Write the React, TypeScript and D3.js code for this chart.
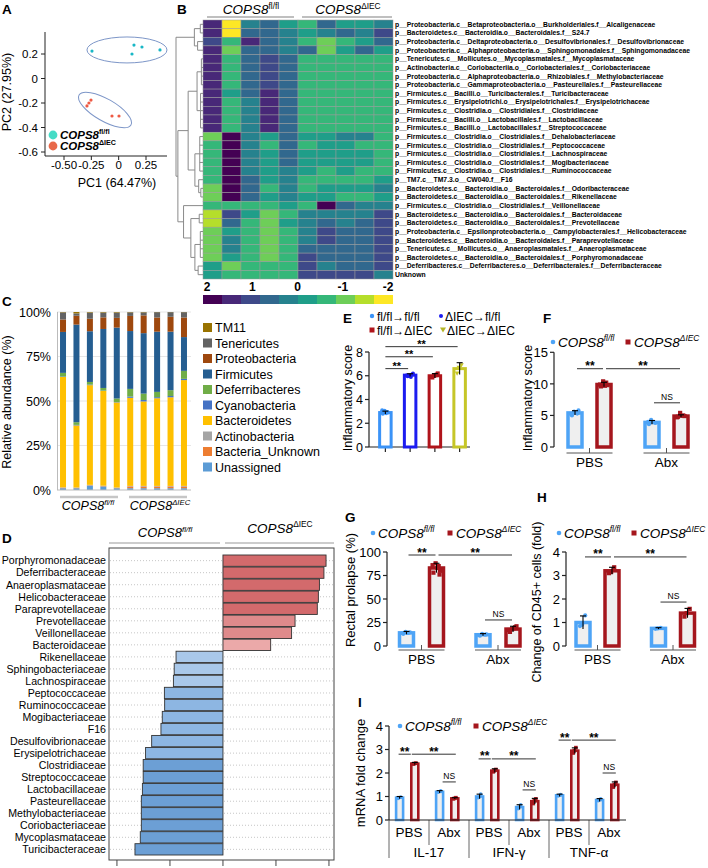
import React from "react";
import * as d3 from "d3";

const FONT = "'Liberation Sans', Arial, Helvetica, sans-serif";
const LBLUE = "#4ea4f6";
const DRED = "#a5161d";
const BAR_FILL = "#efefef";
const AXIS = "#222";

// ---------- Panel A: PCA ----------
const pcaFlX = [-0.244, 0.14, 0.213, 0.122, 0.378];
const pcaFlY = [0.224, 0.273, 0.257, 0.2, 0.233];
const pcaKoX = [-0.253, -0.272, -0.29, -0.061, 0.003];
const pcaKoY = [-0.176, -0.2, -0.224, -0.306, -0.306];
const pcaXTicks = [-0.5, -0.25, 0, 0.25];
const pcaXTickLabels = ["-0.50", "-0.25", "0", "0.25"];
const pcaYTicks = [0.2, 0, -0.2, -0.4, -0.6];
const pcaYTickLabels = ["0.2", "0", "-0.2", "-0.4", "-0.6"];
const ellCx = [0.076, -0.125];
const ellCy = [0.233, -0.257];
const ellRx = [0.366, 0.274];
const ellRy = [0.106, 0.09];
const ellRot = [0, 30];

// ---------- Panel B: heatmap ----------
const hmTaxa = [
  "p__Proteobacteria.c__Betaproteobacteria.o__Burkholderiales.f__Alcaligenaceae",
  "p__Bacteroidetes.c__Bacteroidia.o__Bacteroidales.f__S24.7",
  "p__Proteobacteria.c__Deltaproteobacteria.o__Desulfovibrionales.f__Desulfovibrionaceae",
  "p__Proteobacteria.c__Alphaproteobacteria.o__Sphingomonadales.f__Sphingomonadaceae",
  "p__Tenericutes.c__Mollicutes.o__Mycoplasmatales.f__Mycoplasmataceae",
  "p__Actinobacteria.c__Coriobacteriia.o__Coriobacteriales.f__Coriobacteriaceae",
  "p__Proteobacteria.c__Alphaproteobacteria.o__Rhizobiales.f__Methylobacteriaceae",
  "p__Proteobacteria.c__Gammaproteobacteria.o__Pasteurellales.f__Pasteurellaceae",
  "p__Firmicutes.c__Bacilli.o__Turicibacterales.f__Turicibacteraceae",
  "p__Firmicutes.c__Erysipelotrichi.o__Erysipelotrichales.f__Erysipelotrichaceae",
  "p__Firmicutes.c__Clostridia.o__Clostridiales.f__Clostridiaceae",
  "p__Firmicutes.c__Bacilli.o__Lactobacillales.f__Lactobacillaceae",
  "p__Firmicutes.c__Bacilli.o__Lactobacillales.f__Streptococcaceae",
  "p__Firmicutes.c__Clostridia.o__Clostridiales.f__Dehalobacteriaceae",
  "p__Firmicutes.c__Clostridia.o__Clostridiales.f__Peptococcaceae",
  "p__Firmicutes.c__Clostridia.o__Clostridiales.f__Lachnospiraceae",
  "p__Firmicutes.c__Clostridia.o__Clostridiales.f__Mogibacteriaceae",
  "p__Firmicutes.c__Clostridia.o__Clostridiales.f__Ruminococcaceae",
  "p__TM7.c__TM7.3.o__CW040.f__F16",
  "p__Bacteroidetes.c__Bacteroidia.o__Bacteroidales.f__Odoribacteraceae",
  "p__Bacteroidetes.c__Bacteroidia.o__Bacteroidales.f__Rikenellaceae",
  "p__Firmicutes.c__Clostridia.o__Clostridiales.f__Veillonellaceae",
  "p__Bacteroidetes.c__Bacteroidia.o__Bacteroidales.f__Bacteroidaceae",
  "p__Bacteroidetes.c__Bacteroidia.o__Bacteroidales.f__Prevotellaceae",
  "p__Proteobacteria.c__Epsilonproteobacteria.o__Campylobacterales.f__Helicobacteraceae",
  "p__Bacteroidetes.c__Bacteroidia.o__Bacteroidales.f__Paraprevotellaceae",
  "p__Tenericutes.c__Mollicutes.o__Anaeroplasmatales.f__Anaeroplasmataceae",
  "p__Bacteroidetes.c__Bacteroidia.o__Bacteroidales.f__Porphyromonadaceae",
  "p__Deferribacteres.c__Deferribacteres.o__Deferribacterales.f__Deferribacteraceae",
  "Unknown",
];
const hmZ = [
  [1.4, -1.8, 0.2, 0.6, -0.2, -0.6, 0.6, -0.2, -0.2, 0.2],
  [1.4, -1.8, 0.6, 0.6, 0.2, -0.2, 0.2, 0.6, 0.2, 1.0],
  [1.0, -0.6, 1.4, 0.6, 0.2, -0.6, -1.0, -0.6, -0.2, 0.6],
  [1.4, -1.0, 0.6, 0.6, 0.2, 0.6, -1.0, -0.2, 0.6, -0.2],
  [1.4, -0.6, 0.6, 1.0, 0.6, -0.6, -0.6, -0.6, -0.6, -0.6],
  [1.4, -0.6, 0.6, 1.0, 0.6, -0.6, -0.6, -0.6, -0.6, -0.6],
  [1.4, -0.6, 0.6, 1.0, 0.6, -0.6, -0.6, -0.6, -0.6, -0.6],
  [1.4, -0.6, 0.6, 1.0, 0.6, -0.6, -0.6, -0.6, -0.6, -0.6],
  [1.4, -0.2, 0.6, 1.4, 0.6, -0.6, -0.6, -0.6, -0.6, -0.6],
  [1.4, -0.6, 0.2, 1.4, 0.6, -0.6, -0.6, -0.6, -0.6, -0.6],
  [1.4, -0.6, 0.2, 1.4, 0.6, -0.6, -0.6, -0.6, -0.6, -0.6],
  [1.4, -0.6, 0.2, 1.4, 0.6, -0.6, -0.6, -0.6, -0.6, -0.6],
  [1.4, -0.6, 0.2, 1.4, 0.6, -0.6, -0.6, -0.6, -0.6, -0.6],
  [-1.0, 1.8, 0.2, -0.2, 0.6, -0.2, -0.2, 0.2, 0.2, -0.6],
  [-0.6, 1.8, 0.2, -0.6, 0.6, -0.6, -0.2, -0.2, -0.6, -0.6],
  [-0.6, 1.8, 0.2, -0.2, 0.6, -0.2, -0.2, -0.2, -0.2, -0.6],
  [-0.6, 1.8, 0.2, -0.2, 0.6, -0.2, -0.2, -0.2, -0.2, -0.6],
  [-0.6, 1.8, 0.2, -0.2, 0.2, -0.2, -0.6, -0.2, -0.6, -0.6],
  [-0.6, 1.8, 0.6, -0.2, 0.2, -0.6, -0.6, -0.6, -0.6, -0.2],
  [-1.0, 1.8, 0.6, -0.6, 0.2, -0.6, -0.2, -0.2, -0.2, 0.2],
  [-1.0, 1.8, 0.6, -0.2, 0.2, -0.2, -0.2, -0.6, -0.6, -0.2],
  [-0.6, -0.6, -0.6, -0.6, -0.2, -0.6, 1.8, 0.6, 0.2, 0.2],
  [-1.4, 1.0, -0.2, -1.0, -0.6, 0.2, 0.2, 0.2, 0.2, 1.0],
  [-1.4, 0.6, -0.6, -1.0, -0.2, 0.2, 0.6, 0.2, 0.6, 1.0],
  [-1.0, -0.2, -0.6, -1.0, -0.6, 0.2, 1.0, 0.6, 0.6, 1.0],
  [-1.0, 0.2, -0.6, -1.0, -0.6, 0.2, 1.0, 0.6, 0.6, 1.0],
  [-1.0, 0.2, -0.6, -1.0, -0.6, 0.6, 0.6, 0.6, 0.6, 1.0],
  [-1.0, -0.2, -0.6, -1.0, -0.6, 1.0, 0.6, 0.6, 0.6, 1.0],
  [-0.2, -1.0, -0.6, -0.6, -0.6, 1.0, 0.2, 0.6, 0.6, 1.0],
  [-0.2, -0.6, -0.6, -0.6, -0.6, 1.0, 1.0, 1.0, 1.0, 0.2],
];
const hmSamples = ["F1", "F2", "F3", "F4", "F5", "K1", "K2", "K3", "K4", "K5"];
const hmLegendTicks = [2, 1, 0, -1, -2];
const hmTree: any = {
  h: 1,
  c: [
    { h: 0.32, c: [{ h: 0.1, c: [0, 1] }, { h: 0.2, c: [2, 3] }] },
    {
      h: 0.93,
      c: [
        {
          h: 0.55,
          c: [
            { h: 0.22, c: [{ h: 0.06, c: [4, 5, 6, 7] }, { h: 0.09, c: [8, 9, 10, 11, 12] }] },
            { h: 0.3, c: [{ h: 0.12, c: [13, 14, 15, 16, 17] }, { h: 0.16, c: [18, { h: 0.08, c: [19, 20] }] }] },
          ],
        },
        {
          h: 0.72,
          c: [
            21,
            { h: 0.45, c: [{ h: 0.14, c: [22, 23] }, { h: 0.3, c: [{ h: 0.1, c: [24, 25, 26, 27] }, { h: 0.18, c: [28, 29] }] }] },
          ],
        },
      ],
    },
  ],
};

// ---------- Panel C: relative abundance ----------
const cSamples = ["F1", "F2", "F3", "F4", "F5", "K1", "K2", "K3", "K4", "K5"];
const phyla = ["Unassigned", "Bacteria_Unknown", "Actinobacteria", "Bacteroidetes", "Cyanobacteria", "Deferribacteres", "Firmicutes", "Proteobacteria", "Tenericutes", "TM11"];
const unassigned = [1.0, 1.0, 2.5, 2.0, 1.0, 1.0, 1.0, 1.0, 1.0, 1.0];
const bactUnknown = [0.3, 0.2, 0.2, 0.2, 0.2, 1.0, 1.0, 1.0, 1.0, 1.0];
const actinobacteria = [0.2, 0.2, 0.2, 0.2, 0.2, 0.3, 0.3, 0.3, 0.3, 0.3];
const bacteroidetes = [62, 35, 56, 53, 48, 49.5, 47.5, 49.5, 50, 59.5];
const cyanobacteria = [0.3, 0.3, 0.3, 0.2, 0.2, 0.7, 0.8, 0.6, 0.7, 0.7];
const deferribacteres = [2, 1.5, 1.5, 1.5, 2, 4.3, 3.6, 3, 3.3, 4.5];
const firmicutes = [23, 55, 28.5, 33, 40, 32.5, 34, 34, 33, 19];
const proteobacteria = [7, 5, 7, 6.5, 5.5, 8.5, 10, 8, 8.4, 11];
const tenericutes = [4, 1.3, 3.5, 2.7, 3, 2, 1.7, 3, 2.6, 3];
const tm11 = [0.2, 0.8, 0.3, 0.3, 0.3, 0.2, 0.2, 0.1, 0.1, 0.1];
const phylumColors = ["#5b9bd5", "#ed7d31", "#a5a5a5", "#ffc000", "#4472c4", "#70ad47", "#255e91", "#9e480e", "#636363", "#997300"];
const cTicks = [0, 0.25, 0.5, 0.75, 1];
const cTickLabels = ["0%", "25%", "50%", "75%", "100%"];

// ---------- Panel D: LEfSe ----------
const dFamilies = [
  "Porphyromonadaceae", "Deferribacteraceae", "Anaeroplasmataceae", "Helicobacteraceae", "Paraprevotellaceae",
  "Prevotellaceae", "Veillonellaceae", "Bacteroidaceae", "Rikenellaceae", "Sphingobacteriaceae", "Lachnospiraceae",
  "Peptococcaceae", "Ruminococcaceae", "Mogibacteriaceae", "F16", "Desulfovibrionaceae", "Erysipelotrichaceae",
  "Clostridiaceae", "Streptococcaceae", "Lactobacillaceae", "Pasteurellaceae", "Methylobacteriaceae",
  "Coriobacteriaceae", "Mycoplasmataceae", "Turicibacteraceae",
];
const dLda = [3.89, 3.81, 3.64, 3.6, 3.56, 2.72, 2.59, 1.8, -1.77, -1.84, -1.87, -2.21, -2.2, -2.29, -2.34, -2.69, -2.92, -3.01, -3.01, -3.04, -3.08, -3.08, -3.08, -3.12, -3.32];
const dTicks = [-4, -2, 0, 2, 4];

// ---------- Panel E ----------
const eGroups = ["fl/fl→fl/fl", "ΔIEC→fl/fl", "fl/fl→ΔIEC", "ΔIEC→ΔIEC"];
const eMeans = [2.9, 6.05, 6.0, 6.6];
const eErr = [0.12, 0.12, 0.18, 0.5];
const eDots = [
  [2.8, 2.95, 3.05, 2.9, 3.1, 2.85],
  [5.95, 6.1, 6.0, 6.2, 6.05, 5.9],
  [5.85, 6.1, 6.0, 6.2, 5.9, 6.05],
  [6.2, 6.9, 6.7],
];
const eTicks = [0, 2, 4, 6, 8];
const eSigFrom = [0, 0, 0];
const eSigTo = [1, 2, 3];
const eSigLevel = [6.6, 7.6, 8.45];
const eSigLabel = ["**", "**", "**"];

// ---------- Panels F, G, H (PBS / Abx x genotype) ----------
const treatments = ["PBS", "Abx"];
const fMeans = [5.4, 9.9, 3.9, 4.9];
const fErr = [0.35, 0.35, 0.3, 0.2];
const fDots = [
  [5.0, 5.3, 5.6, 5.8, 5.2, 5.5, 5.4],
  [9.6, 10.2, 10.4, 9.8, 9.9, 9.7],
  [3.6, 3.9, 4.3, 3.8, 4.0],
  [4.8, 5.0, 5.4, 4.9, 4.7],
];
const fTicks = [0, 5, 10, 15];
const fSigFrom = [0, 1, 2];
const fSigTo = [1, 3, 3];
const fSigLevel = [12.4, 12.4, 7.0];
const fSigLabel = ["**", "**", "NS"];

const gMeans = [14, 83, 12, 18];
const gErr = [1.5, 5, 1.2, 3];
const gDots = [
  [13, 14, 15, 14.5, 13.5, 14],
  [78, 85, 88, 80, 86, 83, 76],
  [11, 12, 13, 12.5, 11.5],
  [15, 20, 18, 21, 17, 19],
];
const gTicks = [0, 25, 50, 75, 100];
const gSigFrom = [0, 1, 2];
const gSigTo = [1, 3, 3];
const gSigLevel = [96.8, 96.8, 27.7];
const gSigLabel = ["**", "**", "NS"];

const hMeans = [1.0, 3.2, 0.75, 1.4];
const hErr = [0.28, 0.15, 0.03, 0.2];
const hDots = [
  [0.85, 1.3, 0.9],
  [3.1, 3.35, 3.15],
  [0.73, 0.77, 0.75],
  [1.25, 1.58, 1.4],
];
const hTicks = [0, 1, 2, 3, 4];
const hSigFrom = [0, 1, 2];
const hSigTo = [1, 3, 3];
const hSigLevel = [3.79, 3.79, 1.87];
const hSigLabel = ["**", "**", "NS"];

// ---------- Panel I ----------
const genes = ["IL-17", "IFN-γ", "TNF-α"];
const iPbsFl = [0.95, 1.0, 1.05];
const iPbsKo = [2.4, 2.1, 2.95];
const iAbxFl = [1.2, 0.55, 0.85];
const iAbxKo = [0.92, 0.8, 1.5];
const iPbsFlErr = [0.05, 0.1, 0.05];
const iPbsKoErr = [0.05, 0.08, 0.12];
const iAbxFlErr = [0.05, 0.1, 0.06];
const iAbxKoErr = [0.03, 0.12, 0.12];
const iDotsPbsFl = [[0.92, 0.98, 0.95], [0.95, 1.1, 0.98], [1.02, 1.08, 1.05]];
const iDotsPbsKo = [[2.38, 2.42, 2.4], [2.05, 2.15, 2.1], [2.85, 3.08, 2.95]];
const iDotsAbxFl = [[1.18, 1.24, 1.2], [0.48, 0.65, 0.55], [0.82, 0.9, 0.85]];
const iDotsAbxKo = [[0.9, 0.95, 0.92], [0.7, 0.9, 0.82], [1.4, 1.6, 1.5]];
const iTicks = [0, 1, 2, 3, 4];
const iSigLevelPair = [2.8, 2.6, 3.4];
const iSigLevelNs = [1.62, 1.28, 2.0];

const JIT = [-3.5, 2.5, -1, 4, -4.5, 1, 3.5, -2];

function Cops({ x, y, sup, fs = 13, anchor = "start", bold = false, supItalic = true, supDy = 0.42 }: any) {
  return (
    <text x={x} y={y} fontSize={fs} fontStyle="italic" fontWeight={bold ? "bold" : "normal"} textAnchor={anchor}>
      COPS8
      <tspan fontSize={fs * 0.62} dy={-fs * supDy} fontStyle={supItalic ? "italic" : "normal"}>
        {sup}
      </tspan>
    </text>
  );
}

function Letter({ x, y, t }: any) {
  return (
    <text x={x} y={y} fontSize={13.5} fontWeight="bold">
      {t}
    </text>
  );
}

function YAxis({ x, y, ticks, fs = 13, title, titleX, titleFs = 12.5, titleCy }: any) {
  const [d0, d1] = y.domain();
  const cy = titleCy ?? (y(d0) + y(d1)) / 2;
  return (
    <g>
      <line x1={x} x2={x} y1={y(d1)} y2={y(d0)} stroke={AXIS} strokeWidth={1.2} />
      {ticks.map((t: number) => (
        <g key={t}>
          <line x1={x - 4} x2={x} y1={y(t)} y2={y(t)} stroke={AXIS} strokeWidth={1.2} />
          <text x={x - 6} y={y(t) + fs * 0.36} textAnchor="end" fontSize={fs}>
            {t}
          </text>
        </g>
      ))}
      <text transform={`translate(${titleX},${cy}) rotate(-90)`} textAnchor="middle" fontSize={titleFs}>
        {title}
      </text>
    </g>
  );
}

function Marker({ shape, x, y, color, s = 4.4 }: any) {
  if (shape === "s") return <rect x={x - s / 2} y={y - s / 2} width={s} height={s} fill={color} />;
  if (shape === "t")
    return <path d={`M${x - s * 0.6},${y - s * 0.45}L${x + s * 0.6},${y - s * 0.45}L${x},${y + s * 0.6}Z`} fill={color} />;
  return <circle cx={x} cy={y} r={s / 2} fill={color} />;
}

function BarSet({ xs, means, errs, dots, colors, shapes, y, w, sw, fill, dotSize = 4.2 }: any) {
  return (
    <g>
      {means.map((v: number, i: number) => {
        const x = xs[i];
        const top = y(v);
        const base = y(0);
        return (
          <g key={i}>
            <rect x={x - w / 2} y={top} width={w} height={base - top} fill={fill} stroke={colors[i]} strokeWidth={sw} />
            {dots[i].map((d: number, k: number) => (
              <Marker key={k} shape={shapes[i]} x={x + JIT[k % JIT.length] * (w / 16)} y={y(d)} color={colors[i]} s={dotSize} />
            ))}
            <line x1={x} x2={x} y1={y(v + errs[i])} y2={y(v - errs[i])} stroke="#000" strokeWidth={1.1} />
            <line x1={x - 3} x2={x + 3} y1={y(v + errs[i])} y2={y(v + errs[i])} stroke="#000" strokeWidth={1.1} />
          </g>
        );
      })}
    </g>
  );
}

function Sig({ x1, x2, y, label, fs = 12 }: any) {
  const ns = label === "NS";
  return (
    <g>
      <line x1={x1} x2={x2} y1={y} y2={y} stroke="#333" strokeWidth={1} />
      <text x={(x1 + x2) / 2} y={ns ? y - 3 : y + 1.5} textAnchor="middle" fontSize={ns ? 8.5 : fs} fontWeight={ns ? "normal" : "bold"}>
        {label}
      </text>
    </g>
  );
}

function GroupAxis({ centers, labels, y, half = 23, labelY, fs = 13.5 }: any) {
  return (
    <g>
      {centers.map((c: number, i: number) => (
        <g key={i}>
          <line x1={c - half} x2={c + half} y1={y} y2={y} stroke="#555" strokeWidth={1} />
          <line x1={c} x2={c} y1={y - 5} y2={y} stroke="#555" strokeWidth={1} />
          <text x={c} y={labelY} textAnchor="middle" fontSize={fs}>
            {labels[i]}
          </text>
        </g>
      ))}
    </g>
  );
}

function GenoLegend({ x, y, gap }: any) {
  return (
    <g>
      <circle cx={x} cy={y} r={2.3} fill={LBLUE} />
      <Cops x={x + 5} y={y + 5} sup="fl/fl" fs={13.5} />
      <rect x={x + gap - 2.5} y={y - 2.5} width={5} height={5} fill={DRED} />
      <Cops x={x + gap + 6} y={y + 5} sup="ΔIEC" fs={13.5} />
    </g>
  );
}

function PanelA() {
  const x = d3.scaleLinear().domain([-0.5, 0.25]).range([64, 146]);
  const y = d3.scaleLinear().domain([-0.6, 0.2]).range([152, 54]);
  const kx = x(1) - x(0);
  const ky = y(0) - y(1);
  return (
    <g>
      <Letter x={2} y={14} t="A" />
      {ellCx.map((cx, i) => (
        <ellipse
          key={i}
          cx={x(cx)}
          cy={y(ellCy[i])}
          rx={ellRx[i] * kx}
          ry={ellRy[i] * ky}
          transform={`rotate(${ellRot[i]} ${x(cx)} ${y(ellCy[i])})`}
          fill="none"
          stroke="#7d96c8"
          strokeWidth={1}
        />
      ))}
      {pcaFlX.map((v, i) => (
        <circle key={"f" + i} cx={x(v)} cy={y(pcaFlY[i])} r={1.6} fill="#18b7c6" />
      ))}
      {pcaKoX.map((v, i) => (
        <circle key={"k" + i} cx={x(v)} cy={y(pcaKoY[i])} r={1.6} fill="#ee5a44" />
      ))}
      <line x1={45} x2={45} y1={32} y2={156} stroke={AXIS} />
      <line x1={45} x2={167} y1={156} y2={156} stroke={AXIS} />
      {pcaYTicks.map((t, i) => (
        <g key={i}>
          <line x1={41} x2={45} y1={y(t)} y2={y(t)} stroke={AXIS} />
          <text x={38} y={y(t) + 4} textAnchor="end" fontSize={11.5}>
            {pcaYTickLabels[i]}
          </text>
        </g>
      ))}
      {pcaXTicks.map((t, i) => (
        <g key={i}>
          <line x1={x(t)} x2={x(t)} y1={156} y2={160} stroke={AXIS} />
          <text x={x(t)} y={169} textAnchor="middle" fontSize={11.5}>
            {pcaXTickLabels[i]}
          </text>
        </g>
      ))}
      <text x={117} y={187} textAnchor="middle" fontSize={12.5}>
        PC1 (64.47%)
      </text>
      <text transform="translate(11,92) rotate(-90)" textAnchor="middle" fontSize={12.5}>
        PC2 (27.95%)
      </text>
      <circle cx={53} cy={135} r={4.4} fill="#46dcc6" />
      <Cops x={60} y={139} sup="fl/fl" fs={11.5} bold supItalic={false} />
      <circle cx={53} cy={146} r={4.4} fill="#e8694a" />
      <Cops x={60} y={150} sup="ΔIEC" fs={11.5} bold supItalic={false} />
    </g>
  );
}

function PanelB() {
  const x = d3.scaleBand().domain(hmSamples).range([203, 393]);
  const y = d3.scaleBand<number>().domain(d3.range(hmTaxa.length)).range([20, 279]);
  const color = d3
    .scaleQuantize<string>()
    .domain([-2, 2])
    .range(d3.range(10).map((i) => d3.interpolateViridis(1 - i / 9)));
  const hx = d3.scaleLinear().domain([0, 1]).range([203, 176]);
  const segs: number[][] = [];
  const lay = (n: any): { x: number; y: number } => {
    if (typeof n === "number") return { x: 203, y: (y(n) as number) + y.bandwidth() / 2 };
    const kids = n.c.map(lay);
    const px = hx(n.h);
    kids.forEach((k: any) => segs.push([k.x, k.y, px, k.y]));
    const ys = kids.map((k: any) => k.y);
    const y0 = Math.min(...ys);
    const y1 = Math.max(...ys);
    segs.push([px, y0, px, y1]);
    return { x: px, y: (y0 + y1) / 2 };
  };
  lay(hmTree);
  const lg = d3.scaleLinear().domain([2, -2]).range([207, 388]);
  const legendVals = d3.range(10).map((i) => 1.8 - 0.4 * i);
  const lx = d3.scaleBand<number>().domain(d3.range(10)).range([203, 393]);
  return (
    <g>
      <Letter x={177} y={14} t="B" />
      <Cops x={251} y={14} sup="fl/fl" fs={13.5} anchor="middle" supItalic={false} supDy={0.34} />
      <Cops x={348} y={14} sup="ΔIEC" fs={13.5} anchor="middle" supItalic={false} supDy={0.34} />
      <line x1={207} x2={294} y1={17} y2={17} stroke="#aaa" strokeWidth={1.5} />
      <line x1={302} x2={392} y1={17} y2={17} stroke="#aaa" strokeWidth={1.5} />
      {hmZ.map((row, r) =>
        row.map((v, c) => (
          <rect
            key={r + "-" + c}
            x={x(hmSamples[c])}
            y={y(r)}
            width={x.bandwidth()}
            height={y.bandwidth()}
            fill={color(v)}
            stroke="#9a9a9a"
            strokeWidth={0.5}
          />
        ))
      )}
      {segs.map((s, i) => (
        <line key={i} x1={s[0]} y1={s[1]} x2={s[2]} y2={s[3]} stroke="#8a8a8a" strokeWidth={1} />
      ))}
      {hmTaxa.map((t, r) => (
        <text key={t} x={395} y={(y(r) as number) + y.bandwidth() / 2 + 2.4} fontSize={6.8} fontWeight="bold">
          {t}
        </text>
      ))}
      {hmLegendTicks.map((t) => (
        <text key={t} x={lg(t)} y={291} textAnchor="middle" fontSize={12} fontWeight="bold">
          {t}
        </text>
      ))}
      {legendVals.map((v, i) => (
        <rect key={i} x={lx(i)} y={295} width={lx.bandwidth()} height={9} fill={color(v)} />
      ))}
    </g>
  );
}

function PanelC() {
  const rows = cSamples.map((s, i) => {
    const o: any = { sample: s };
    const series = [unassigned, bactUnknown, actinobacteria, bacteroidetes, cyanobacteria, deferribacteres, firmicutes, proteobacteria, tenericutes, tm11];
    phyla.forEach((p, j) => (o[p] = series[j][i]));
    return o;
  });
  const stacked = d3.stack().keys(phyla).offset(d3.stackOffsetExpand)(rows);
  const x = d3.scalePoint().domain(cSamples).range([56.3, 190.7]).padding(0.5);
  const y = d3.scaleLinear().domain([0, 1]).range([490, 312]);
  const bw = 6;
  const legendOrder = phyla.slice().reverse();
  const ly = d3.scalePoint().domain(legendOrder).range([327.5, 467]);
  return (
    <g>
      <Letter x={2} y={306} t="C" />
      {cTicks.slice(1).map((t) => (
        <line key={t} x1={57} x2={191} y1={y(t)} y2={y(t)} stroke="#e6e6e6" strokeWidth={1} />
      ))}
      {stacked.map((layer, j) => (
        <g key={phyla[j]} fill={phylumColors[j]}>
          {layer.map((d: any, i: number) => (
            <rect key={i} x={(x(cSamples[i]) as number) - bw / 2} y={y(d[1])} width={bw} height={Math.max(0, y(d[0]) - y(d[1]))} />
          ))}
        </g>
      ))}
      <line x1={57.5} x2={57.5} y1={312} y2={490} stroke="#bbb" strokeWidth={1} />
      <line x1={57} x2={191} y1={490} y2={490} stroke="#bbb" strokeWidth={1} />
      {cTicks.map((t, i) => (
        <text key={t} x={51} y={y(t) + 4.5} textAnchor="end" fontSize={12.5}>
          {cTickLabels[i]}
        </text>
      ))}
      <text transform="translate(11,402) rotate(-90)" textAnchor="middle" fontSize={12.5}>
        Relative abundance (%)
      </text>
      <line x1={60} x2={118} y1={497} y2={497} stroke="#c6c6c6" strokeWidth={2.5} />
      <line x1={129} x2={187} y1={497} y2={497} stroke="#c6c6c6" strokeWidth={2.5} />
      <Cops x={88} y={510} sup="fl/fl" fs={12.5} anchor="middle" />
      <Cops x={160} y={510} sup="ΔIEC" fs={12.5} anchor="middle" />
      {legendOrder.map((p) => {
        const j = phyla.indexOf(p);
        const yy = ly(p) as number;
        return (
          <g key={p}>
            <rect x={203} y={yy - 4.5} width={9} height={9} fill={phylumColors[j]} />
            <text x={215} y={yy + 4.5} fontSize={12.5}>
              {p}
            </text>
          </g>
        );
      })}
    </g>
  );
}

function PanelD() {
  const y = d3.scaleBand().domain(dFamilies).range([555, 855]).paddingInner(0.06);
  const x = d3.scaleLinear().domain([-4.3, 4.19]).range([109, 334]);
  const fillFor = (v: number) => {
    const a = Math.abs(v);
    if (v > 0) return a < 2 ? "#eba9a9" : a < 3 ? "#df8a8b" : "#d36a6c";
    return a < 2 ? "#a9c8ea" : a < 3 ? "#8db6e2" : "#6c9fd5";
  };
  return (
    <g>
      <Letter x={2} y={543} t="D" />
      <Cops x={165} y={537} sup="fl/fl" fs={13} anchor="middle" />
      <Cops x={280} y={533} sup="ΔIEC" fs={13.5} anchor="middle" supItalic={false} />
      <line x1={109} x2={220} y1={543} y2={543} stroke="#999" strokeWidth={1} />
      <line x1={225} x2={334} y1={543} y2={543} stroke="#999" strokeWidth={1} />
      <rect x={109} y={548} width={225} height={312} fill="none" stroke="#444" strokeWidth={1} />
      {dFamilies.map((f) => {
        const yy = (y(f) as number) + y.bandwidth() / 2;
        return <line key={"g" + f} x1={110} x2={333} y1={yy} y2={yy} stroke="#b8b8b8" strokeDasharray="1,2" strokeWidth={0.8} />;
      })}
      {dFamilies.map((f, i) => {
        const v = dLda[i];
        const x0 = x(Math.min(0, v));
        const x1 = x(Math.max(0, v));
        return <rect key={f} x={x0} y={y(f)} width={x1 - x0} height={y.bandwidth()} fill={fillFor(v)} stroke="#333" strokeWidth={0.9} />;
      })}
      {dFamilies.map((f) => (
        <text key={"t" + f} x={106} y={(y(f) as number) + y.bandwidth() / 2 + 3.8} textAnchor="end" fontSize={10.6}>
          {f}
        </text>
      ))}
      {dTicks.map((t) => (
        <line key={t} x1={x(t)} x2={x(t)} y1={860} y2={866} stroke="#444" strokeWidth={1} />
      ))}
    </g>
  );
}

function PanelE() {
  const x = d3.scaleBand().domain(eGroups).range([373, 472]);
  const y = d3.scaleLinear().domain([0, 8]).range([447, 352]);
  const xs = eGroups.map((g) => (x(g) as number) + x.bandwidth() / 2);
  const colors = ["#3b93f7", "#1c1cf0", "#b0141b", "#c6c628"];
  const shapes = ["c", "c", "s", "t"];
  return (
    <g>
      <Letter x={343} y={323} t="E" />
      <circle cx={372} cy={316} r={2.2} fill="#3b93f7" />
      <text x={377} y={320.5} fontSize={12}>
        {eGroups[0]}
      </text>
      <circle cx={441} cy={316} r={2} fill="#1c1cf0" />
      <text x={445} y={320.5} fontSize={12}>
        {eGroups[1]}
      </text>
      <rect x={369.5} y={327.5} width={5} height={5} fill="#b0141b" />
      <text x={377} y={335} fontSize={12}>
        {eGroups[2]}
      </text>
      <path d="M440,327.5L446,327.5L443,332.5Z" fill="#b5b526" />
      <text x={447} y={335} fontSize={12}>
        {eGroups[3]}
      </text>
      <YAxis x={369} y={y} ticks={eTicks} fs={12.5} title="Inflammatory score" titleX={352} titleCy={398} />
      <line x1={369} x2={470} y1={447} y2={447} stroke={AXIS} strokeWidth={1.2} />
      {xs.map((c, i) => (
        <line key={i} x1={c} x2={c} y1={447} y2={452} stroke={AXIS} strokeWidth={1.2} />
      ))}
      <BarSet xs={xs} means={eMeans} errs={eErr} dots={eDots} colors={colors} shapes={shapes} y={y} w={11.5} sw={3} fill="#fff" dotSize={4} />
      {eSigFrom.map((a, i) => (
        <Sig key={i} x1={xs[a]} x2={xs[eSigTo[i]] - 2} y={y(eSigLevel[i])} label={eSigLabel[i]} fs={11} />
      ))}
    </g>
  );
}

function GenoPanel({ letter, lx, ly, legX, legY, legGap, y, axisX, ticks, title, titleX, titleCy, titleFs, gc0, gc1, off, means, errs, dots, sigFrom, sigTo, sigLevel, sigLabel, groupY, labelY }: any) {
  const xg = d3.scalePoint().domain(treatments).range([gc0, gc1]);
  const xs = [0, 1, 2, 3].map((i) => (xg(treatments[Math.floor(i / 2)]) as number) + (i % 2 === 0 ? -off : off));
  const colors = [LBLUE, DRED, LBLUE, DRED];
  const shapes = ["c", "s", "c", "s"];
  return (
    <g>
      <Letter x={lx} y={ly} t={letter} />
      <GenoLegend x={legX} y={legY} gap={legGap} />
      <YAxis x={axisX} y={y} ticks={ticks} fs={13} title={title} titleX={titleX} titleCy={titleCy} titleFs={titleFs} />
      <BarSet xs={xs} means={means} errs={errs} dots={dots} colors={colors} shapes={shapes} y={y} w={14} sw={3.5} fill={BAR_FILL} />
      {sigFrom.map((a: number, i: number) => (
        <Sig key={i} x1={xs[a] + 2} x2={xs[sigTo[i]] - 1} y={y(sigLevel[i])} label={sigLabel[i]} />
      ))}
      <GroupAxis centers={treatments.map((t) => xg(t))} labels={treatments} y={groupY} labelY={labelY} />
    </g>
  );
}

function PanelI() {
  const xGene = d3.scaleBand().domain(genes).range([389, 629]);
  const xCond = d3.scaleBand().domain(treatments).range([0, xGene.bandwidth()]);
  const xGeno = d3.scalePoint().domain(["fl", "ko"]).range([xCond.bandwidth() * 0.265, xCond.bandwidth() * 0.645]);
  const y = d3.scaleLinear().domain([0, 4]).range([820, 726]);
  const colors = [LBLUE, DRED, LBLUE, DRED];
  const shapes = ["c", "s", "c", "s"];
  return (
    <g>
      <Letter x={358} y={707} t="I" />
      <GenoLegend x={400} y={726} gap={76} />
      <YAxis x={389} y={y} ticks={iTicks} fs={13} title="mRNA fold change" titleX={365} titleFs={13} />
      {genes.map((g, gi) => {
        const g0 = xGene(g) as number;
        const xs = [
          g0 + (xCond("PBS") as number) + (xGeno("fl") as number),
          g0 + (xCond("PBS") as number) + (xGeno("ko") as number),
          g0 + (xCond("Abx") as number) + (xGeno("fl") as number),
          g0 + (xCond("Abx") as number) + (xGeno("ko") as number),
        ];
        const means = [iPbsFl[gi], iPbsKo[gi], iAbxFl[gi], iAbxKo[gi]];
        const errs = [iPbsFlErr[gi], iPbsKoErr[gi], iAbxFlErr[gi], iAbxKoErr[gi]];
        const dots = [iDotsPbsFl[gi], iDotsPbsKo[gi], iDotsAbxFl[gi], iDotsAbxKo[gi]];
        return (
          <g key={g}>
            <BarSet xs={xs} means={means} errs={errs} dots={dots} colors={colors} shapes={shapes} y={y} w={7} sw={2.6} fill={BAR_FILL} dotSize={3.6} />
            <Sig x1={xs[0] - 1} x2={xs[1] - 4} y={y(iSigLevelPair[gi])} label="**" />
            <Sig x1={xs[1] - 3} x2={xs[3] + 1} y={y(iSigLevelPair[gi])} label="**" />
            <Sig x1={xs[2] + 3} x2={xs[3] + 1} y={y(iSigLevelNs[gi])} label="NS" />
            <line x1={g0} x2={g0} y1={820} y2={858} stroke="#666" strokeWidth={1} />
            <line x1={g0 + (xCond("Abx") as number)} x2={g0 + (xCond("Abx") as number)} y1={820} y2={845} stroke="#666" strokeWidth={1} />
            {treatments.map((t) => (
              <text key={t} x={g0 + (xCond(t) as number) + xCond.bandwidth() / 2} y={837} textAnchor="middle" fontSize={13.5}>
                {t}
              </text>
            ))}
            <text x={g0 + xGene.bandwidth() / 2} y={857} textAnchor="middle" fontSize={13.5}>
              {g}
            </text>
          </g>
        );
      })}
      <line x1={389} x2={626} y1={820} y2={820} stroke={AXIS} strokeWidth={1.2} />
    </g>
  );
}

export default function App() {
  const yF = d3.scaleLinear().domain([0, 15]).range([447, 352.3]);
  const yG = d3.scaleLinear().domain([0, 100]).range([646, 552]);
  const yH = d3.scaleLinear().domain([0, 4]).range([646, 552]);
  return (
    <svg
      width={708}
      height={868}
      viewBox="0 0 708 868"
      style={{ position: "absolute", left: 0, top: 0, display: "block" }}
      fontFamily={FONT}
    >
      <rect width={708} height={868} fill="#fff" />
      <PanelA />
      <PanelB />
      <PanelC />
      <PanelD />
      <PanelE />
      <GenoPanel
        letter="F" lx={543} ly={323} legX={553} legY={342} legGap={75}
        y={yF} axisX={554} ticks={fTicks} title="Inflammatory score" titleX={532} titleCy={398} titleFs={12.5}
        gc0={589.5} gc1={666.5} off={14.5}
        means={fMeans} errs={fErr} dots={fDots}
        sigFrom={fSigFrom} sigTo={fSigTo} sigLevel={fSigLevel} sigLabel={fSigLabel}
        groupY={453} labelY={467}
      />
      <GenoPanel
        letter="G" lx={345} ly={522} legX={373} legY={533} legGap={77}
        y={yG} axisX={387} ticks={gTicks} title="Rectal prolapse (%)" titleX={355} titleCy={590} titleFs={13}
        gc0={421.5} gc1={498} off={15}
        means={gMeans} errs={gErr} dots={gDots}
        sigFrom={gSigFrom} sigTo={gSigTo} sigLevel={gSigLevel} sigLabel={gSigLabel}
        groupY={650} labelY={664}
      />
      <GenoPanel
        letter="H" lx={537} ly={502} legX={559} legY={533} legGap={75}
        y={yH} axisX={566} ticks={hTicks} title="Change of CD45+ cells (fold)" titleX={541} titleCy={602} titleFs={12.5}
        gc0={597.5} gc1={673} off={14.5}
        means={hMeans} errs={hErr} dots={hDots}
        sigFrom={hSigFrom} sigTo={hSigTo} sigLevel={hSigLevel} sigLabel={hSigLabel}
        groupY={650} labelY={664}
      />
      <PanelI />
    </svg>
  );
}
